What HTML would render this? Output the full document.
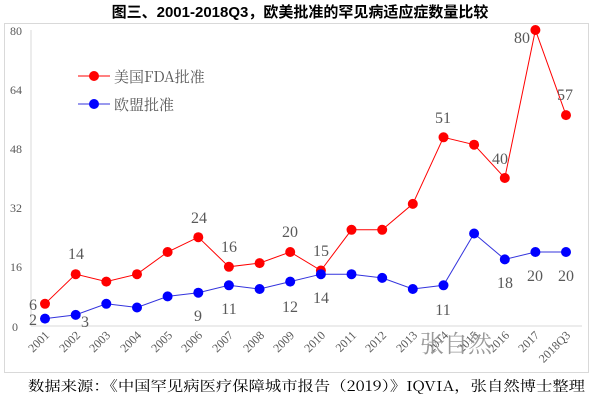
<!DOCTYPE html><html><head><meta charset="utf-8"><style>body{margin:0;background:#fff}svg{display:block}</style></head><body>
<svg width="600" height="401" xmlns="http://www.w3.org/2000/svg" font-family="'Liberation Serif','Noto Serif CJK SC',serif">
<rect x="4.5" y="23.5" width="584" height="349" fill="none" stroke="#d9d9d9"/>
<text x="300" y="17" text-anchor="middle" font-family="'Liberation Sans','Noto Sans CJK SC',sans-serif" font-weight="bold" font-size="15" fill="#000">图三、2001-2018Q3，欧美批准的罕见病适应症数量比较</text>
<line x1="31" y1="30" x2="31" y2="326" stroke="#d9d9d9"/>
<line x1="31" y1="326" x2="582" y2="326" stroke="#d9d9d9"/>
<g font-size="12" fill="#595959" text-anchor="end">
<text x="22" y="35">80</text><text x="22" y="94">64</text><text x="22" y="153">48</text><text x="22" y="212">32</text><text x="22" y="271">16</text><text x="18" y="331">0</text>
</g>
<g font-size="12" fill="#595959" text-anchor="end">
<text transform="translate(50,336) rotate(-45)">2001</text><text transform="translate(81,336) rotate(-45)">2002</text><text transform="translate(111,336) rotate(-45)">2003</text><text transform="translate(142,336) rotate(-45)">2004</text><text transform="translate(173,336) rotate(-45)">2005</text><text transform="translate(203,336) rotate(-45)">2006</text><text transform="translate(234,336) rotate(-45)">2007</text><text transform="translate(265,336) rotate(-45)">2008</text><text transform="translate(295,336) rotate(-45)">2009</text><text transform="translate(326,336) rotate(-45)">2010</text><text transform="translate(357,336) rotate(-45)">2011</text><text transform="translate(387,336) rotate(-45)">2012</text><text transform="translate(418,336) rotate(-45)">2013</text><text transform="translate(449,336) rotate(-45)">2014</text><text transform="translate(479,336) rotate(-45)">2015</text><text transform="translate(510,336) rotate(-45)">2016</text><text transform="translate(540,336) rotate(-45)">2017</text><text transform="translate(571,336) rotate(-45)">2018Q3</text>
</g>
<text x="420" y="352" font-size="24" fill="#999" font-family="'Noto Serif CJK SC',serif">张自然</text>
<polyline fill="none" stroke="#ff0000" stroke-width="1" points="45,303.8 75.7,274.2 106.3,281.6 137,274.2 167.6,252 198.3,237.2 228.9,266.8 259.6,263.1 290.2,252 320.9,270.5 351.5,229.8 382.2,229.8 412.8,203.9 443.5,137.3 474.1,144.7 504.8,178 535.4,30 566,115.1"/>
<polyline fill="none" stroke="#3333dd" stroke-width="1" points="45,318.6 75.7,314.9 106.3,303.8 137,307.5 167.6,296.4 198.3,292.7 228.9,285.3 259.6,289 290.2,281.6 320.9,274.2 351.5,274.2 382.2,277.9 412.8,289 443.5,285.3 474.1,233.5 504.8,259.4 535.4,252 566,252"/>
<g fill="#ff0000">
<circle cx="45" cy="303.8" r="5"/><circle cx="75.7" cy="274.2" r="5"/><circle cx="106.3" cy="281.6" r="5"/><circle cx="137" cy="274.2" r="5"/><circle cx="167.6" cy="252" r="5"/><circle cx="198.3" cy="237.2" r="5"/><circle cx="228.9" cy="266.8" r="5"/><circle cx="259.6" cy="263.1" r="5"/><circle cx="290.2" cy="252" r="5"/><circle cx="320.9" cy="270.5" r="5"/><circle cx="351.5" cy="229.8" r="5"/><circle cx="382.2" cy="229.8" r="5"/><circle cx="412.8" cy="203.9" r="5"/><circle cx="443.5" cy="137.3" r="5"/><circle cx="474.1" cy="144.7" r="5"/><circle cx="504.8" cy="178" r="5"/><circle cx="535.4" cy="30" r="5"/><circle cx="566" cy="115.1" r="5"/>
</g>
<g fill="#0000ff">
<circle cx="45" cy="318.6" r="5"/><circle cx="75.7" cy="314.9" r="5"/><circle cx="106.3" cy="303.8" r="5"/><circle cx="137" cy="307.5" r="5"/><circle cx="167.6" cy="296.4" r="5"/><circle cx="198.3" cy="292.7" r="5"/><circle cx="228.9" cy="285.3" r="5"/><circle cx="259.6" cy="289" r="5"/><circle cx="290.2" cy="281.6" r="5"/><circle cx="320.9" cy="274.2" r="5"/><circle cx="351.5" cy="274.2" r="5"/><circle cx="382.2" cy="277.9" r="5"/><circle cx="412.8" cy="289" r="5"/><circle cx="443.5" cy="285.3" r="5"/><circle cx="474.1" cy="233.5" r="5"/><circle cx="504.8" cy="259.4" r="5"/><circle cx="535.4" cy="252" r="5"/><circle cx="566" cy="252" r="5"/>
</g>
<g font-size="16" fill="#595959" text-anchor="middle">
<text x="33" y="310">6</text><text x="76" y="259">14</text><text x="199" y="223">24</text><text x="229" y="252">16</text><text x="290" y="237">20</text><text x="321" y="256">15</text><text x="443" y="123">51</text><text x="500" y="164">40</text><text x="522" y="43">80</text><text x="565" y="100">57</text>
<text x="33" y="325">2</text><text x="85" y="327">3</text><text x="198" y="321">9</text><text x="229" y="314">11</text><text x="290" y="312">12</text><text x="321" y="303">14</text><text x="443" y="315">11</text><text x="505" y="288">18</text><text x="535" y="281">20</text><text x="566" y="281">20</text>
</g>
<line x1="78" y1="76" x2="110" y2="76" stroke="#ff0000"/><circle cx="94" cy="76" r="5" fill="#ff0000"/>
<text x="114" y="82" font-size="15" fill="#595959" font-family="'Noto Serif CJK SC',serif">美国FDA批准</text>
<line x1="78" y1="104" x2="110" y2="104" stroke="#3333dd"/><circle cx="94" cy="104" r="5" fill="#0000ff"/>
<text x="114" y="110" font-size="15" fill="#595959" font-family="'Noto Serif CJK SC',serif">欧盟批准</text>
<text x="28" y="391" font-size="14" fill="#000" font-family="'Noto Serif CJK SC',serif" textLength="557" lengthAdjust="spacingAndGlyphs">数据来源：《中国罕见病医疗保障城市报告（2019）》IQVIA，张自然博士整理</text>
</svg>
</body></html>
